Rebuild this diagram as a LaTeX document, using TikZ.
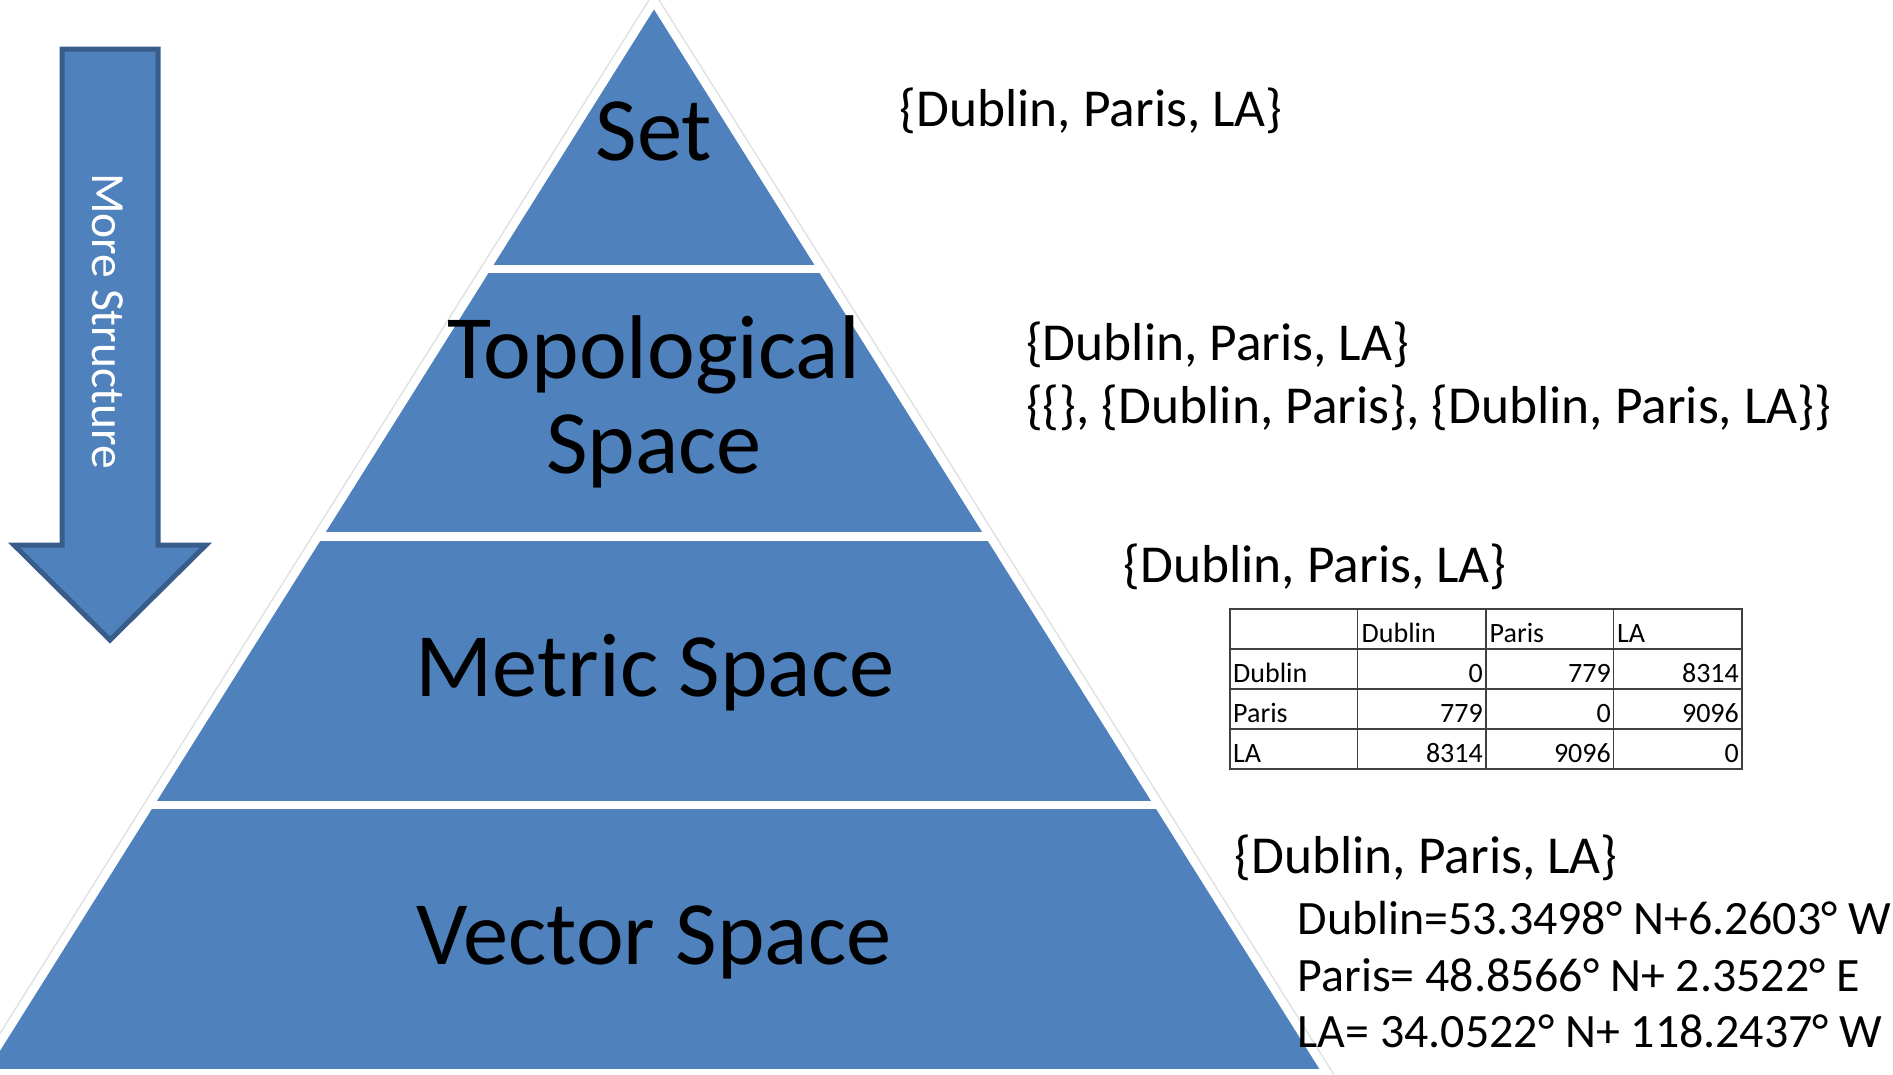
\documentclass[tikz,border=0pt]{standalone}
\usepackage{fontspec}
\setmainfont{Carlito}
\definecolor{bandblue}{HTML}{4F81BD}
\definecolor{arrowedge}{HTML}{385D8A}
\definecolor{rimgray}{HTML}{E2E2E2}
\definecolor{gridline}{HTML}{404040}

\begin{document}
\begin{tikzpicture}[x=1pt,y=-1pt,
  layer/.style={font=\fontsize{90.5}{98}\selectfont, text=black, anchor=base, inner sep=0pt},
  setlabel/.style={font=\fontsize{53.4}{64}\selectfont, anchor=base west, inner sep=0pt},
  coordlabel/.style={font=\fontsize{47.9}{57}\selectfont, anchor=base west, inner sep=0pt},
  cellL/.style={font=\fontsize{28}{34}\selectfont, anchor=base west, inner sep=0pt},
  cellR/.style={font=\fontsize{28}{34}\selectfont, anchor=base east, inner sep=0pt},
  grid/.style={draw=gridline, line width=1.6pt},
  ]
\useasboundingbox (0,0) rectangle (1893,1074);

% faint rim around the whole pyramid
\draw[rimgray, line width=1.5pt] (-25.5,1074) -- (654,-8) -- (1333.5,1074);

% the four stacked layers
\begin{scope}
  \clip (654,9.5) -- (-14.5,1074) -- (1322.5,1074) -- cycle;
  \fill[bandblue] (-50,0)   rectangle (1400,265);
  \fill[bandblue] (-50,273) rectangle (1400,532);
  \fill[bandblue] (-50,541) rectangle (1400,801);
  \fill[bandblue] (-50,809) rectangle (1400,1069);
\end{scope}

% layer titles
\node[layer] (set)   at (654,160) {Set};
\node[layer] (topoA) at (654,378) {Topological};
\node[layer] (topoB) at (654,473) {Space};
\node[layer] (metric) at (655,696) {Metric Space};
\node[layer] (vector) at (654,964) {Vector Space};

% block arrow on the left
\draw[arrowedge, line width=5pt, fill=bandblue, line join=miter]
  (62,49) -- (158,49) -- (158,545) -- (206,545) -- (110,640)
  -- (14,545) -- (62,545) -- cycle;
\node[rotate=-90, anchor=base, text=white, inner sep=0pt,
      font=\fontsize{47.5}{56}\selectfont] (more) at (92,321) {More Structure};

% examples beside each layer
\node[setlabel] (exSet)   at (899.5,126)  {\{Dublin, Paris, LA\}};
\node[setlabel] (exTopoA) at (1026,360) {\{Dublin, Paris, LA\}};
\node[setlabel] (exTopoB) at (1026,423) {\{\{\}, \{Dublin, Paris\}, \{Dublin, Paris, LA\}\}};
\node[setlabel] (exMetric) at (1123.5,582) {\{Dublin, Paris, LA\}};
\node[setlabel] (exVector) at (1234.5,873) {\{Dublin, Paris, LA\}};
\node[coordlabel] (vecA) at (1297.5,934)  {Dublin=53.3498° N+6.2603° W};
\node[coordlabel] (vecB) at (1297.5,991)  {Paris= 48.8566° N+ 2.3522° E};
\node[coordlabel] (vecC) at (1297.5,1047) {LA= 34.0522° N+ 118.2437° W};

% distance table
\draw[grid] (1230,609) rectangle (1742,769);
\draw[grid] (1357.5,609) -- (1357.5,769);
\draw[grid] (1485.7,609) -- (1485.7,769);
\draw[grid] (1613.6,609) -- (1613.6,769);
\draw[grid] (1230,649) -- (1742,649);
\draw[grid] (1230,689) -- (1742,689);
\draw[grid] (1230,729) -- (1742,729);

\node[cellL] (hDub) at (1361.5,642) {Dublin};
\node[cellL] (hPar) at (1489.5,642) {Paris};
\node[cellL] (hLA)  at (1617.0,642) {LA};

\node[cellL] (rDub) at (1233,682) {Dublin};
\node[cellL] (rPar) at (1233,722) {Paris};
\node[cellL] (rLA)  at (1233,762) {LA};

\node[cellR] (dDD) at (1483,682) {0};
\node[cellR] (dDP) at (1611,682) {779};
\node[cellR] (dDL) at (1739,682) {8314};
\node[cellR] (dPD) at (1483,722) {779};
\node[cellR] (dPP) at (1611,722) {0};
\node[cellR] (dPL) at (1739,722) {9096};
\node[cellR] (dLD) at (1483,762) {8314};
\node[cellR] (dLP) at (1611,762) {9096};
\node[cellR] (dLL) at (1739,762) {0};
\end{tikzpicture}
\end{document}
